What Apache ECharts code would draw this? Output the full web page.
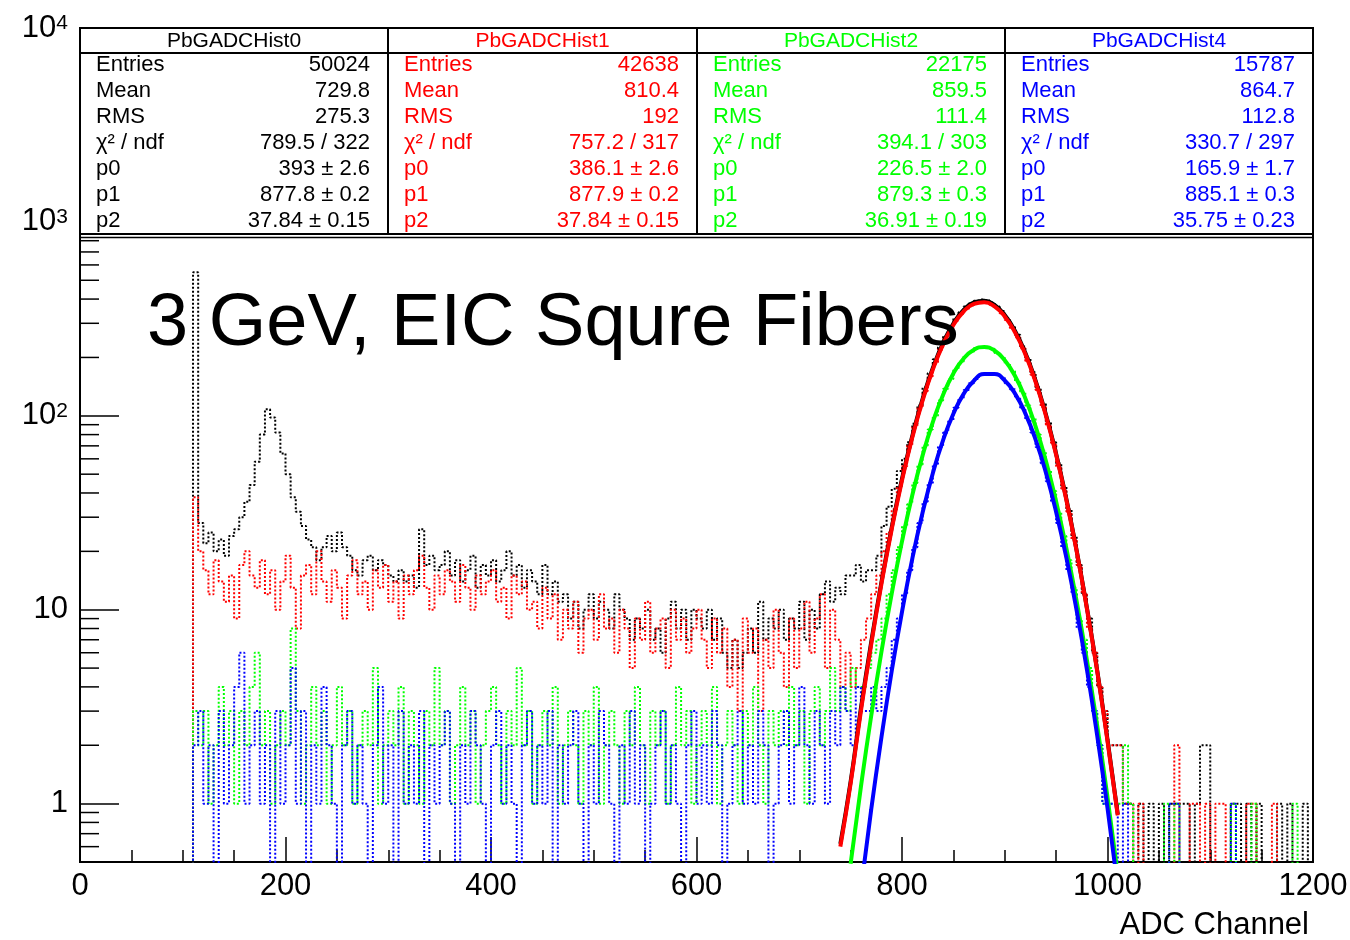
<!DOCTYPE html>
<html>
<head>
<meta charset="utf-8">
<script src="https://cdn.jsdelivr.net/npm/echarts@6.0.0/dist/echarts.min.js"></script>
<style>
html,body{margin:0;padding:0;background:#ffffff;}
#chart{width:1350px;height:940px;}
</style>
</head>
<body>
<div id="chart"></div>
<script>
// ---------------- DATA ----------------
// Histogram bins: 5 ADC channels wide, first bin starts at channel 100 (counts per channel)
const BIN_START = 100;
const BIN_WIDTH = 5;

const hist0 = [ // PbGADCHist0 (black)
  0, 0, 550, 28, 22, 25, 20, 23, 19, 24,
  26, 30, 36, 44, 58, 80, 108, 98, 82, 64,
  50, 38, 32, 27, 23, 21, 18, 21, 24, 20,
  25, 21, 19, 16, 15, 18, 19, 16, 18, 17,
  15, 14, 16, 14, 15, 13, 26, 17, 19, 16,
  17, 20, 15, 18, 14, 16, 19, 13, 17, 15,
  18, 14, 16, 20, 15, 17, 13, 16, 14, 12,
  17, 12, 14, 11, 12, 9, 11, 8, 10, 12,
  9, 11, 10, 8, 12, 10, 9, 7, 9, 8,
  10, 7, 8, 6, 9, 11, 8, 10, 7, 10,
  9, 8, 10, 7, 9, 6, 5, 7, 5, 6,
  8, 6, 11, 7, 9, 8, 10, 7, 9, 8,
  11, 7, 10, 8, 12, 14, 11, 13, 12, 15,
  15, 17, 14, 16, 16, 19, 27, 34, 42, 52,
  60, 73, 91, 113, 140, 166, 196, 226, 258, 290,
  318, 342, 366, 380, 392, 398, 394, 384, 366, 347,
  318, 290, 262, 228, 198, 168, 140, 115, 93, 73,
  57, 43, 33, 24, 17, 12, 9, 6, 4, 3,
  2, 2, 2, 1, 1, 0, 1, 0, 1, 0,
  1, 0, 1, 1, 1, 1, 0, 1, 2, 2,
  0, 0, 0, 0, 1, 1, 0, 1, 0, 1,
  0, 0, 0, 1, 0, 1, 0, 0, 1, 0
];
const hist1 = [ // PbGADCHist1 (red)
  0, 0, 38, 20, 16, 12, 18, 14, 11, 15,
  9, 17, 20, 15, 13, 18, 12, 16, 10, 14,
  19, 13, 8, 15, 17, 12, 20, 14, 11, 16,
  13, 9, 15, 18, 12, 14, 10, 16, 13, 17,
  11, 14, 9, 15, 12, 16, 19, 13, 10, 15,
  12, 16, 14, 11, 17, 13, 10, 15, 12, 14,
  16, 11, 13, 9, 15, 12, 14, 10, 11, 8,
  13, 9, 12, 7, 10, 8, 11, 6, 9, 10,
  7, 12, 8, 9, 6, 10, 8, 5, 9, 7,
  11, 6, 8, 9, 5, 10, 7, 9, 6, 8,
  10, 7, 5, 9, 6, 8, 4, 7, 3, 9,
  6, 8, 3, 7, 5, 10, 6, 4, 9, 5,
  8, 11, 6, 9, 12, 5, 10, 7, 4, 6,
  4, 5, 7, 9, 12, 15, 20, 25, 33, 43,
  55, 70, 88, 109, 134, 160, 189, 220, 250, 281,
  309, 335, 356, 372, 383, 387, 384, 374, 358, 338,
  312, 284, 254, 223, 192, 163, 136, 111, 90, 71,
  55, 42, 32, 23, 17, 12, 8, 6, 4, 3,
  2, 2, 2, 1, 1, 0, 1, 0, 0, 0,
  0, 0, 0, 2, 0, 0, 1, 1, 0, 1,
  0, 1, 1, 0, 0, 0, 0, 1, 1, 0,
  0, 0, 1, 0, 0, 0, 0, 0, 0, 0
];
const hist2 = [ // PbGADCHist2 (green)
  0, 0, 3, 2, 3, 1, 2, 4, 2, 3,
  1, 3, 2, 4, 6, 2, 3, 1, 2, 3,
  2, 8, 3, 1, 2, 4, 2, 3, 1, 2,
  4, 2, 3, 1, 2, 3, 2, 5, 1, 2,
  3, 2, 4, 1, 3, 2, 1, 3, 2, 5,
  2, 3, 1, 2, 4, 2, 3, 1, 2, 3,
  4, 2, 1, 3, 2, 5, 2, 3, 1, 2,
  3, 2, 4, 1, 2, 3, 2, 1, 3, 2,
  4, 1, 2, 3, 2, 1, 3, 2, 4, 2,
  1, 3, 2, 3, 1, 2, 4, 2, 3, 1,
  2, 3, 2, 4, 1, 2, 3, 2, 1, 3,
  2, 4, 2, 1, 3, 2, 3, 2, 4, 2,
  3, 1, 3, 4, 2, 3, 5, 3, 4, 3,
  5, 4, 4, 5, 6, 7, 9, 12, 16, 21,
  27, 35, 45, 56, 70, 85, 100, 120, 138, 155,
  174, 190, 205, 214, 224, 226, 224, 222, 211, 201,
  185, 170, 150, 133, 113, 97, 80, 66, 52, 41,
  32, 24, 18, 13, 9, 7, 5, 3, 2, 1,
  1, 1, 1, 2, 1, 0, 0, 0, 0, 0,
  0, 1, 0, 1, 0, 0, 0, 0, 0, 0,
  0, 0, 0, 0, 1, 0, 0, 0, 1, 0,
  0, 0, 0, 0, 0, 0, 1, 0, 0, 0
];
const hist4 = [ // PbGADCHist4 (blue)
  0, 0, 2, 3, 1, 2, 0, 3, 1, 2,
  4, 6, 1, 2, 3, 1, 2, 0, 3, 1,
  2, 5, 1, 3, 0, 2, 1, 4, 2, 1,
  0, 2, 3, 1, 2, 1, 0, 2, 4, 1,
  2, 0, 3, 1, 2, 1, 3, 0, 2, 1,
  2, 3, 1, 0, 2, 1, 3, 2, 1, 0,
  2, 3, 1, 2, 1, 0, 2, 3, 1, 2,
  1, 3, 0, 2, 1, 2, 3, 1, 0, 2,
  1, 3, 2, 1, 0, 2, 1, 3, 1, 2,
  0, 1, 2, 3, 1, 2, 1, 0, 2, 3,
  1, 2, 1, 3, 2, 0, 1, 2, 3, 1,
  2, 1, 3, 2, 0, 1, 2, 3, 1, 2,
  4, 2, 1, 3, 2, 1, 3, 2, 4, 3,
  2, 4, 3, 3, 4, 3, 4, 5, 7, 9,
  12, 16, 21, 28, 36, 45, 56, 69, 82, 95,
  110, 123, 136, 147, 155, 163, 166, 165, 162, 157,
  147, 137, 123, 110, 96, 82, 69, 57, 46, 36,
  28, 21, 16, 12, 8, 6, 4, 3, 2, 1,
  1, 1, 0, 1, 0, 0, 0, 0, 0, 0,
  0, 0, 1, 1, 0, 0, 0, 0, 0, 0,
  0, 0, 0, 0, 1, 0, 0, 0, 0, 0,
  0, 0, 0, 0, 0, 0, 0, 0, 0, 0
];

// Gaussian fit curves, sampled along ADC channel
const fitX0 = [740,750,760,770,780,790,800,810,820,830,840,850,860,870,880,890,900,910,920,930,940,950,960,970,980,990,1000,1010];
const fitY0 = [0.62,1.3,3.1,6.8,13.9,26.6,47.4,78.8,122.0,176.5,238.0,299.5,351.4,384.7,392.5,373.3,331.0,273.8,211.3,151.9,101.9,63.8,37.2,20.2,10.2,4.86,2.14,0.88];
const fitX1 = [740,750,760,770,780,790,800,810,820,830,840,850,860,870,880,890,900,910,920,930,940,950,960,970,980,990,1000,1010];
const fitY1 = [0.6,1.27,3.0,6.6,13.6,26.0,46.4,77.2,119.7,173.3,233.8,294.2,345.2,377.8,385.5,366.9,325.6,269.4,208.0,149.6,100.4,62.9,36.7,20.0,10.1,4.8,2.1,0.87];
const fitX2 = [750,760,770,780,790,800,810,820,830,840,850,860,870,880,890,900,910,920,930,940,950,960,970,980,990,1000,1010];
const fitY2 = [0.49,1.22,2.83,6.07,12.1,22.5,38.9,62.3,92.8,128.5,165.3,197.6,219.4,226.5,217.2,193.5,160.3,123.3,88.2,58.6,36.2,20.7,11.06,5.48,2.52,1.08,0.43];
const fitX4 = [760,770,780,790,800,810,820,830,840,850,860,870,880,890,900,910,920,930,940,950,960,970,980,990,1000,1010];
const fitY4 = [0.36,0.93,2.2,4.83,9.76,18.3,31.6,50.6,74.9,102.5,129.7,151.7,164.2,164.3,152.1,130.2,103.0,75.4,51.0,31.9,18.5,9.89,4.9,2.24,0.95,0.37];

// Axis ticks / labels
const xTicks = [0, 200, 400, 600, 800, 1000, 1200];
const yTickLabels = ['1', '10', '10^2', '10^3', '10^4'];
const yMinorTicks = [0.6,0.7,0.8,0.9, 2,3,4,5,6,7,8,9, 20,30,40,50,60,70,80,90, 200,300,400,500,600,700,800,900, 2000,3000];

// Stats boxes
const statTitles = ['PbGADCHist0', 'PbGADCHist1', 'PbGADCHist2', 'PbGADCHist4'];
const statLabels = ['Entries', 'Mean', 'RMS', 'χ² / ndf', 'p0', 'p1', 'p2'];
const stat0 = ['50024', '729.8', '275.3', '789.5 / 322', '393 ± 2.6', '877.8 ± 0.2', '37.84 ± 0.15'];
const stat1 = ['42638', '810.4', '192', '757.2 / 317', '386.1 ± 2.6', '877.9 ± 0.2', '37.84 ± 0.15'];
const stat2 = ['22175', '859.5', '111.4', '394.1 / 303', '226.5 ± 2.0', '879.3 ± 0.3', '36.91 ± 0.19'];
const stat4 = ['15787', '864.7', '112.8', '330.7 / 297', '165.9 ± 1.7', '885.1 ± 0.3', '35.75 ± 0.23'];

const titleText = '3 GeV, EIC Squre Fibers';
const xAxisTitle = 'ADC Channel';

// ---------------- STYLE / BUILD ----------------
const FONT = '"Liberation Sans", Arial, Helvetica, sans-serif';
const COLORS = ['#000000', '#ff0000', '#00ff00', '#0000ff'];
const ZERO_LEVEL = 0.3; // empty bins drop below the frame bottom, as ROOT draws them

const GRID = { left: 80, right: 37, top: 28, bottom: 78 };

function histSeries(name, arr, color) {
  return {
    name: name, type: 'line', step: 'middle', clip: true,
    showSymbol: false, symbol: 'none', silent: true,
    data: arr.map((v, i) => [BIN_START + BIN_WIDTH * (i + 0.5), v > 0 ? v : ZERO_LEVEL]),
    lineStyle: { color: color, width: 2, type: [2, 2] },
    z: 2
  };
}
function fitSeries(name, xs, ys, color) {
  return {
    name: name, type: 'line', smooth: true, clip: true,
    showSymbol: false, symbol: 'none', silent: true,
    data: xs.map((x, i) => [x, ys[i]]),
    lineStyle: { color: color, width: 4, type: 'solid' },
    z: 3
  };
}

function yLabel(v) {
  const l = Math.log10(v);
  const e = Math.round(l);
  if (Math.abs(l - e) > 1e-6 || e < 0 || e >= yTickLabels.length) return '';
  const t = yTickLabels[e];
  const parts = t.split('^');
  return parts.length > 1 ? parts[0] + '{s|' + parts[1] + '}' : t;
}

// graphic: stats boxes
const edges = [80, 388, 697, 1005, 1313];
const stats = [stat0, stat1, stat2, stat4];
const graphics = [];
for (let k = 0; k < 4; k++) {
  const x0 = edges[k], x1 = edges[k + 1];
  graphics.push({ type: 'rect', z: 100, silent: true,
    shape: { x: x0, y: 28, width: x1 - x0, height: 206 },
    style: { fill: '#ffffff', stroke: '#000000', lineWidth: 2 } });
  graphics.push({ type: 'line', z: 101, silent: true,
    shape: { x1: x0, y1: 53, x2: x1, y2: 53 },
    style: { stroke: '#000000', lineWidth: 2 } });
  graphics.push({ type: 'text', z: 102, silent: true,
    style: { text: statTitles[k], x: (x0 + x1) / 2, y: 41, align: 'center', verticalAlign: 'middle',
      textAlign: 'center', textVerticalAlign: 'middle',
      font: '21px ' + FONT, fill: COLORS[k] } });
  for (let r = 0; r < statLabels.length; r++) {
    const yy = 65 + r * 26;
    graphics.push({ type: 'text', z: 102, silent: true,
      style: { text: statLabels[r], x: x0 + 16, y: yy, align: 'left', verticalAlign: 'middle',
        textAlign: 'left', textVerticalAlign: 'middle',
        font: '22px ' + FONT, fill: COLORS[k] } });
    graphics.push({ type: 'text', z: 102, silent: true,
      style: { text: stats[k][r], x: x1 - 18, y: yy, align: 'right', verticalAlign: 'middle',
        textAlign: 'right', textVerticalAlign: 'middle',
        font: '22px ' + FONT, fill: COLORS[k] } });
  }
}
graphics.push({ type: 'line', z: 101, silent: true,
  shape: { x1: 80, y1: 237.5, x2: 1313, y2: 237.5 },
  style: { stroke: '#000000', lineWidth: 1.5 } });
graphics.push({ type: 'text', z: 50, silent: true,
  style: { text: titleText, x: 147, y: 325, align: 'left', verticalAlign: 'middle',
    textAlign: 'left', textVerticalAlign: 'middle',
    font: '74px ' + FONT, fill: '#000000' } });
graphics.push({ type: 'text', z: 50, silent: true,
  style: { text: xAxisTitle, x: 1309, y: 925, align: 'right', verticalAlign: 'middle',
    textAlign: 'right', textVerticalAlign: 'middle',
    font: '31px ' + FONT, fill: '#000000' } });

const chart = echarts.init(document.getElementById('chart'), null, { renderer: 'canvas' });
chart.setOption({
  animation: false,
  backgroundColor: '#ffffff',
  grid: { left: GRID.left, right: GRID.right, top: GRID.top, bottom: GRID.bottom,
    containLabel: false, outerBoundsMode: 'none',
    show: true, borderColor: '#000000', borderWidth: 2, backgroundColor: 'transparent' },
  xAxis: {
    type: 'value', min: xTicks[0], max: xTicks[xTicks.length - 1], interval: xTicks[1] - xTicks[0],
    axisLine: { show: true, onZero: false, lineStyle: { color: '#000', width: 2 } },
    axisTick: { show: true, inside: true, length: 25, lineStyle: { color: '#000', width: 1.5 } },
    minorTick: { show: true, splitNumber: 4, length: 12, lineStyle: { color: '#000', width: 1.5 } },
    splitLine: { show: false },
    axisLabel: { fontSize: 31, fontFamily: FONT, color: '#000', margin: 9,
      formatter: function (v) { return String(v); } }
  },
  yAxis: {
    type: 'log', logBase: 10, min: 0.5, max: 10000,
    axisLine: { show: true, lineStyle: { color: '#000', width: 2 } },
    axisTick: { show: true, inside: true, length: 39, lineStyle: { color: '#000', width: 1.5 } },
    splitLine: { show: false },
    axisLabel: {
      fontSize: 31, fontFamily: FONT, color: '#000', margin: 12,
      formatter: yLabel,
      rich: { s: { fontSize: 21, fontFamily: FONT, color: '#000', verticalAlign: 'top', lineHeight: 22 } }
    }
  },
  graphic: { elements: graphics },
  series: [
    histSeries('PbGADCHist0', hist0, COLORS[0]),
    fitSeries('fit0', fitX0, fitY0, COLORS[0]),
    histSeries('PbGADCHist1', hist1, COLORS[1]),
    fitSeries('fit1', fitX1, fitY1, COLORS[1]),
    histSeries('PbGADCHist2', hist2, COLORS[2]),
    fitSeries('fit2', fitX2, fitY2, COLORS[2]),
    histSeries('PbGADCHist4', hist4, COLORS[3]),
    fitSeries('fit4', fitX4, fitY4, COLORS[3]),
    {
      name: 'yMinorTicks', type: 'custom', coordinateSystem: 'cartesian2d', silent: true, z: 5,
      data: yMinorTicks.map(v => [xTicks[0], v]),
      renderItem: function (params, api) {
        const p = api.coord([api.value(0), api.value(1)]);
        return { type: 'line', shape: { x1: p[0], y1: p[1], x2: p[0] + 19, y2: p[1] },
          style: { stroke: '#000', lineWidth: 1.5 } };
      }
    }
  ]
});
</script>
</body>
</html>
